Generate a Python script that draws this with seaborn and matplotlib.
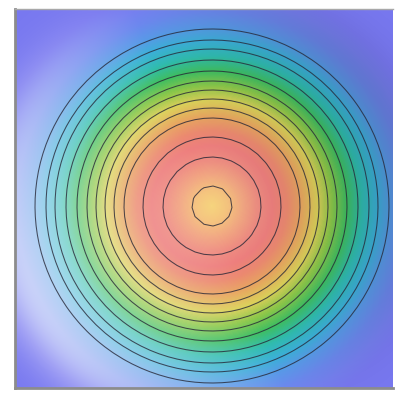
"""
Shaded radial contour map (single peak, concentric rings).
"""

import numpy as np
import matplotlib

matplotlib.use("Agg")
import matplotlib.pyplot as plt
import seaborn as sns

# Base colour of the surface, one stop every 15 px of radius from the peak
stop_radii = [0, 15, 30, 45, 60, 75, 90, 105, 120, 135,
              150, 165, 180, 195, 210, 225, 240, 255, 270, 285]
stop_colors = [
    "#f6d47e", "#f5c47e", "#f2a882", "#ef8e82", "#ee7f7e",
    "#ec8a70", "#e8a860", "#dcd05a", "#8cc84a", "#3fbf62",
    "#30bcb0", "#3cb0d8", "#5a98e8", "#6c88ee", "#7680f0",
    "#7878f0", "#7878f0", "#7878f0", "#7878f0", "#7878f0",
]

# Contour rings, radius in px from the peak
ring_radii = [20, 49, 69, 88, 98, 107, 116, 125, 135, 146, 157, 166, 177]

# Plot area size (px) and peak location inside it
area_w, area_h = 378, 379
peak_x, peak_y = 197, 197

sns.set_style("white")
cmap = sns.blend_palette(stop_colors, n_colors=256, as_cmap=True)

# Fine grid for the coloured surface
xs = np.arange(area_w) + 0.5
ys = np.arange(area_h) + 0.5
X, Y = np.meshgrid(xs, ys)
dx, dy = X - peak_x, Y - peak_y
r = np.hypot(dx, dy)
theta = np.arctan2(dy, dx)

rgb = cmap(np.clip(r / stop_radii[-1], 0, 1))[..., :3]

# Fake lighting from the lower left: slopes facing the light get brighter
light_dir = np.deg2rad(158)
slope = (np.clip(r, 0, 195) / 195) ** 1.2 * np.exp(-(np.clip(r - 195, 0, None) / 38) ** 2)
shade = slope * np.cos(theta - light_dir)
lit = np.clip(shade, 0, None)[..., None]
dark = np.clip(-shade, 0, None)[..., None]
rgb = rgb + (1 - rgb) * lit * 0.62
rgb = rgb * (1 - dark * 0.13)

fig = plt.figure(figsize=(4.02, 4.04), dpi=100)
ax = fig.add_axes([15 / 402, 16 / 404, 378 / 402, 379 / 404])
ax.imshow(rgb, extent=[0, area_w, area_h, 0], interpolation="bilinear")

# Coarse grid for the rings gives the slightly polygonal look
gx = np.linspace(0, area_w, 43)
gy = np.linspace(0, area_h, 43)
GX, GY = np.meshgrid(gx, gy)
GR = np.hypot(GX - peak_x, GY - peak_y)
ax.contour(GX, GY, GR, levels=ring_radii, colors="#262636",
           linewidths=0.75, alpha=0.8)

ax.set_xlim(0, area_w)
ax.set_ylim(area_h, 0)
ax.set_xticks([])
ax.set_yticks([])
for side in ["left", "bottom"]:
    ax.spines[side].set_color("#8c8c8c")
    ax.spines[side].set_linewidth(2)
ax.spines["top"].set_color("#a8a8a8")
ax.spines["top"].set_linewidth(1)
ax.spines["right"].set_visible(False)

fig.savefig("out.png", dpi=100)
plt.close(fig)
